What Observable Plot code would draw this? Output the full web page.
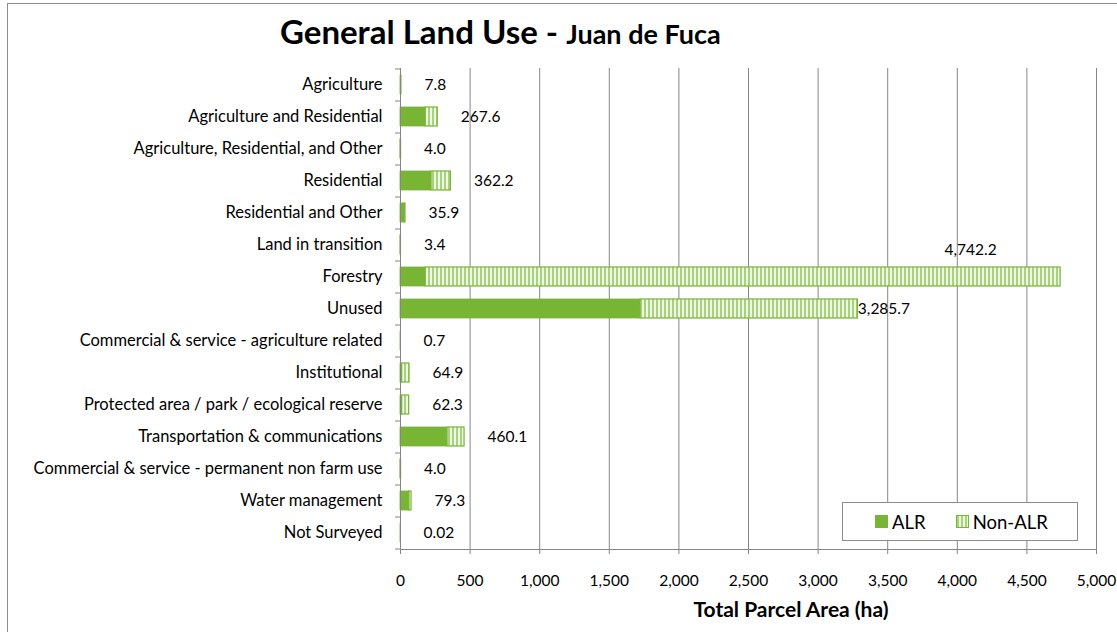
<!DOCTYPE html>
<html><head><meta charset="utf-8">
<script src="https://cdn.jsdelivr.net/npm/d3@7"></script>
<script src="https://cdn.jsdelivr.net/npm/@observablehq/plot@0.6"></script>
<style>
body{margin:0;background:#fff;font-family:Lato,"Open Sans",sans-serif;}
#wrap{position:relative;width:1117px;height:632px;overflow:hidden;background:#fff;}
#frame{position:absolute;left:7px;top:3px;width:1130px;height:650px;border:1px solid #8c8c8c;box-sizing:border-box;pointer-events:none;}
#title{position:absolute;left:280px;top:15px;font-weight:bold;white-space:nowrap;color:#000;line-height:1;}
#title .main{font-size:33px;}
#title .sub{font-size:27px;}
#xlabel{position:absolute;left:641px;width:300px;top:598px;text-align:center;font-weight:bold;font-size:21px;color:#000;white-space:nowrap;line-height:1;}
#legend{position:absolute;left:842px;top:502px;width:236px;height:39px;border:1px solid #8c8c8c;box-sizing:border-box;background:#fff;display:flex;align-items:center;font-size:18.5px;color:#000;}
.sw{display:inline-block;width:13px;height:13px;box-sizing:border-box;margin-right:4px;}
.alr{background:#78b535;}
.non{background:repeating-linear-gradient(90deg,#a8d27b 0 2px,#eef6e4 2px 4px);border:1px solid #78b535;}
#chart{position:absolute;left:0;top:0;}
</style>
</head><body>
<div id="wrap">
  <div id="chart"></div>
  <div id="frame"></div>
  <div id="title"><span class="main">General Land Use - </span><span class="sub">Juan de Fuca</span></div>
  <div id="legend"><span style="margin-left:32px" class="sw alr"></span>ALR<span style="margin-left:30px" class="sw non"></span>Non-ALR</div>
  <div id="xlabel">Total Parcel Area (ha)</div>
</div>
<script>
const categories = [
  "Agriculture",
  "Agriculture and Residential",
  "Agriculture, Residential, and Other",
  "Residential",
  "Residential and Other",
  "Land in transition",
  "Forestry",
  "Unused",
  "Commercial & service - agriculture related",
  "Institutional",
  "Protected area / park / ecological reserve",
  "Transportation & communications",
  "Commercial & service - permanent non farm use",
  "Water management",
  "Not Surveyed"
];
const alrValues    = [7.8, 180, 0, 223, 30, 0, 180, 1724, 0.7, 12, 12, 338, 0, 60, 0.02];
const nonAlrValues = [0, 87.6, 4.0, 139.2, 5.9, 3.4, 4562.2, 1561.7, 0, 52.9, 50.3, 122.1, 4.0, 19.3, 0];
const totalValues  = [7.8, 267.6, 4.0, 362.2, 35.9, 3.4, 4742.2, 3285.7, 0.7, 64.9, 62.3, 460.1, 4.0, 79.3, 0.02];
const totalLabels  = ["7.8","267.6","4.0","362.2","35.9","3.4","4,742.2","3,285.7","0.7","64.9","62.3","460.1","4.0","79.3","0.02"];
const xTicks = [0,500,1000,1500,2000,2500,3000,3500,4000,4500,5000];

const rows = categories.map((c, i) => ({
  cat: c, alr: alrValues[i], non: nonAlrValues[i], total: totalValues[i], label: totalLabels[i]
}));

const W = 1117, H = 632, mt = 68, mb = 83, ml = 400, mr = 21;
const step = (H - mt - mb) / categories.length;
const green = "#78b535";
const grid = "#868686";

const svg = Plot.plot({
  width: W, height: H,
  marginTop: mt, marginBottom: mb, marginLeft: ml, marginRight: mr,
  style: {fontFamily: "Lato, 'Open Sans', sans-serif", fontSize: "15px", color: "#000", background: "transparent"},
  x: {domain: [0, 5000], ticks: xTicks, tickFormat: d3.format(","), label: null},
  y: {domain: categories, paddingInner: 0.4, paddingOuter: 0.2, label: null},
  marks: [
    Plot.ruleX(xTicks.slice(1), {stroke: grid, strokeOpacity: 1}),
    Plot.axisX({ticks: xTicks, tickFormat: d3.format(","), tickSize: 5, tickPadding: 20, stroke: grid, strokeOpacity: 1, fontSize: 15.5, label: null}),
    Plot.axisY({tickSize: 0, tickPadding: 18, fontSize: 16.5, label: null}),
    Plot.ruleY(categories, {y: d => d, dy: step / 2, x1: -36, x2: 0, stroke: grid, strokeOpacity: 1}),
    Plot.ruleY(categories.slice(0, 1), {y: d => d, dy: -step / 2, x1: -36, x2: 0, stroke: grid, strokeOpacity: 1}),
    Plot.barX(rows.filter(d => d.alr > 0), {y: "cat", x1: 0, x2: "alr", fill: green, stroke: green, strokeWidth: 0.8}),
    Plot.barX(rows.filter(d => d.non > 0), {y: "cat", x1: "alr", x2: d => d.alr + d.non, fill: "url(#nonalr)", stroke: green, strokeWidth: 1.2}),
    Plot.frame({anchor: "left", stroke: grid, strokeOpacity: 1}),
    Plot.frame({anchor: "bottom", stroke: grid, strokeOpacity: 1}),
    Plot.text(rows.filter(d => d.total < 3000), {y: "cat", x: "total", text: "label", textAnchor: "start", dx: 23, fontSize: 15.5, fill: "#000"}),
    Plot.text(rows.filter(d => d.total >= 3000 && d.total < 4000), {y: "cat", x: "total", text: "label", textAnchor: "start", dx: 0, fontSize: 15.5, fill: "#000"}),
    Plot.text(rows.filter(d => d.total >= 4000), {y: "cat", x: "total", text: "label", textAnchor: "middle", dx: -90, dy: -27, fontSize: 15.5, fill: "#000"})
  ]
});

const defs = d3.select(svg).insert("defs", ":first-child");
const pat = defs.append("pattern").attr("id", "nonalr").attr("patternUnits", "userSpaceOnUse")
  .attr("width", 4).attr("height", 4);
pat.append("rect").attr("width", 4).attr("height", 4).attr("fill", "#eef6e4");
pat.append("rect").attr("width", 2).attr("height", 4).attr("fill", "#a8d27b");

document.getElementById("chart").appendChild(svg);
</script>
</body></html>
